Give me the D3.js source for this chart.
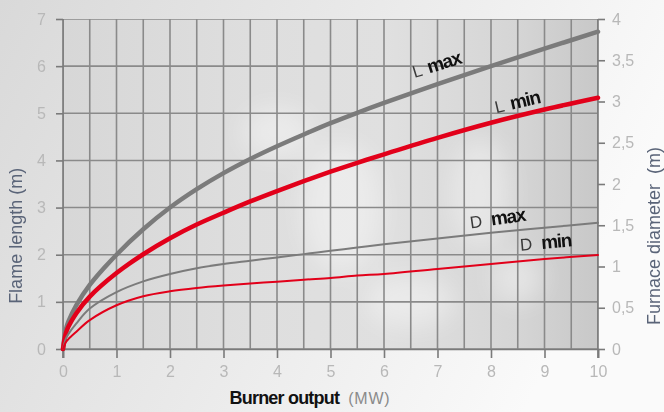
<!DOCTYPE html>
<html>
<head>
<meta charset="utf-8">
<script src="https://cdn.jsdelivr.net/npm/d3@7"></script>
<style>
  html, body { margin: 0; padding: 0; background: #fff; }
  svg { display: block; }
</style>
</head>
<body>
<svg id="chart" width="664" height="412"></svg>
<script>
// ---------- data ----------
const burnerMW = [0, 0.05, 0.1, 0.25, 0.5, 1, 1.5, 2, 2.5, 3, 3.5, 4, 4.5, 5, 5.5, 6, 7, 8, 9, 10];
// Flame length (m) — left axis
const lMax = [0, 0.40, 0.58, 0.93, 1.36, 2.00, 2.54, 3.00, 3.39, 3.73, 4.03, 4.30, 4.55, 4.79, 5.01, 5.22, 5.62, 6.00, 6.37, 6.73];
const lMin = [0, 0.32, 0.47, 0.76, 1.11, 1.61, 2.01, 2.35, 2.64, 2.89, 3.13, 3.35, 3.56, 3.76, 3.95, 4.13, 4.48, 4.80, 5.08, 5.33];
// Furnace diameter (m) — right axis
const dMax = [0, 0.12, 0.18, 0.31, 0.49, 0.69, 0.82, 0.91, 0.98, 1.03, 1.07, 1.11, 1.15, 1.19, 1.23, 1.27, 1.34, 1.41, 1.47, 1.53];
const dMin = [0, 0.08, 0.12, 0.21, 0.35, 0.53, 0.64, 0.70, 0.74, 0.77, 0.795, 0.815, 0.84, 0.86, 0.89, 0.91, 0.97, 1.03, 1.09, 1.14];

const xTicks = [0, 1, 2, 3, 4, 5, 6, 7, 8, 9, 10];
const xGrid = d3.range(0, 10.01, 0.5);
const leftTicks = [0, 1, 2, 3, 4, 5, 6, 7];
const rightTicks = [0, 0.5, 1, 1.5, 2, 2.5, 3, 3.5, 4];
const rightTickLabels = ["0", "0,5", "1", "1,5", "2", "2,5", "3", "3,5", "4"];

// curve labels: [prefix, suffix, x (MW), value, axis, angle]
const curveLabels = [
  ["L", "max", 6.57, 5.75, "L", -17],
  ["L", "min", 8.1, 5.0, "L", -13],
  ["D", "max", 7.62, 1.46, "R", -8],
  ["D", "min", 8.55, 1.19, "R", -5]
];

// ---------- layout ----------
const svg = d3.select("#chart");
const W = 664, H = 412;
const x = d3.scaleLinear().domain([0, 10]).range([63, 598]);
const yL = d3.scaleLinear().domain([0, 7]).range([349, 19]);
const yR = d3.scaleLinear().domain([0, 4]).range([349, 19]);

const defs = svg.append("defs");
const pageGrad = defs.append("linearGradient").attr("id", "pageGrad")
  .attr("x1", "0").attr("x2", "1").attr("y1", "0").attr("y2", "0.3");
pageGrad.append("stop").attr("offset", "0").attr("stop-color", "#d9d9d9");
pageGrad.append("stop").attr("offset", "0.5").attr("stop-color", "#e9e9e9");
pageGrad.append("stop").attr("offset", "1").attr("stop-color", "#fafafa");

const plotGrad = defs.append("linearGradient").attr("id", "plotGrad")
  .attr("x1", "0").attr("x2", "1").attr("y1", "0").attr("y2", "0");
plotGrad.append("stop").attr("offset", "0").attr("stop-color", "#d7d7d7");
plotGrad.append("stop").attr("offset", "0.35").attr("stop-color", "#dedede");
plotGrad.append("stop").attr("offset", "0.6").attr("stop-color", "#e0e0e0");
plotGrad.append("stop").attr("offset", "0.85").attr("stop-color", "#d5d5d5");
plotGrad.append("stop").attr("offset", "1").attr("stop-color", "#c8c8c8");

const blur = defs.append("filter").attr("id", "blur").attr("x", "-50%").attr("y", "-50%").attr("width", "200%").attr("height", "200%");
blur.append("feGaussianBlur").attr("stdDeviation", 12);

defs.append("clipPath").attr("id", "plotClip").append("rect")
  .attr("x", x(0)).attr("y", yL(7)).attr("width", x(10) - x(0)).attr("height", yL(0) - yL(7));

svg.append("rect").attr("width", W).attr("height", H).attr("fill", "url(#pageGrad)");

const plot = svg.append("g").attr("clip-path", "url(#plotClip)");
plot.append("rect")
  .attr("x", x(0)).attr("y", yL(7)).attr("width", x(10) - x(0)).attr("height", yL(0) - yL(7))
  .attr("fill", "url(#plotGrad)");

// faded photo highlights
const blobs = [[5.2, 3.0, 40, 65], [7.8, 3.3, 30, 55], [6.5, 1.0, 45, 25], [4.0, 4.6, 35, 25], [8.5, 1.5, 25, 25]];
plot.append("g").attr("filter", "url(#blur)")
  .selectAll("ellipse").data(blobs).join("ellipse")
  .attr("cx", d => x(d[0])).attr("cy", d => yL(d[1]))
  .attr("rx", d => d[2]).attr("ry", d => d[3])
  .attr("fill", "#ffffff").attr("opacity", 0.38);

// grid
const gridColor = "#8a8a8a";
plot.append("g").selectAll("line").data(xGrid).join("line")
  .attr("x1", d => x(d)).attr("x2", d => x(d))
  .attr("y1", yL(7)).attr("y2", yL(0))
  .attr("stroke", gridColor).attr("stroke-width", 1.6);
plot.append("g").selectAll("line").data(leftTicks).join("line")
  .attr("x1", x(0)).attr("x2", x(10))
  .attr("y1", d => yL(d)).attr("y2", d => yL(d))
  .attr("stroke", gridColor).attr("stroke-width", 1.6);

// axes
const tickFont = "'Liberation Sans', Arial, sans-serif";
const tickColor = "#b8b8b8";

const gLeft = svg.append("g").attr("transform", `translate(${x(0)},0)`)
  .call(d3.axisLeft(yL).tickValues(leftTicks).tickSize(7).tickPadding(10).tickFormat(d3.format("d")));
const gBottom = svg.append("g").attr("transform", `translate(0,${yL(0)})`)
  .call(d3.axisBottom(x).tickValues(xTicks).tickSize(9).tickPadding(8).tickFormat(d3.format("d")));
const gRight = svg.append("g").attr("transform", `translate(${x(10)},0)`)
  .call(d3.axisRight(yR).tickValues(rightTicks).tickSize(7).tickPadding(7).tickFormat((d, i) => rightTickLabels[i]));

[gLeft, gBottom, gRight].forEach(g => {
  g.select(".domain").attr("stroke", "#7a7a7a").attr("stroke-width", 1.6);
  g.selectAll(".tick line").attr("stroke", "#7a7a7a").attr("stroke-width", 1.6);
  g.selectAll(".tick text").attr("fill", tickColor)
    .style("font-family", tickFont).style("font-size", "16px");
});
gLeft.select(".domain").attr("d", `M0,${yL(7)}V${yL(0) + 9}`);
gRight.select(".domain").attr("d", `M0,${yR(4)}V${yR(0) + 9}`);

// curves
const line = (ys, scale) => d3.line()
  .x((d, i) => x(burnerMW[i]))
  .y(d => scale(d))
  .curve(d3.curveCatmullRom.alpha(0.5))(ys);

const series = [
  { v: lMax, s: yL, color: "#7b7b7b", w: 4.5 },
  { v: lMin, s: yL, color: "#e2001a", w: 4.5 },
  { v: dMax, s: yR, color: "#7b7b7b", w: 2 },
  { v: dMin, s: yR, color: "#e2001a", w: 2 }
];
svg.append("g").selectAll("path").data(series).join("path")
  .attr("d", d => line(d.v, d.s))
  .attr("fill", "none")
  .attr("stroke", d => d.color)
  .attr("stroke-width", d => d.w)
  .attr("stroke-linecap", "round");

// curve labels
curveLabels.forEach(([p, s, xv, yv, ax, ang]) => {
  const sc = ax === "L" ? yL : yR;
  const t = svg.append("text")
    .attr("transform", `translate(${x(xv)},${sc(yv)}) rotate(${ang})`)
    .style("font-family", "'Liberation Sans', Arial, sans-serif");
  t.append("tspan").text(p)
    .attr("fill", "#3a3a3a").style("font-size", "17px").style("font-weight", "normal");
  t.append("tspan").text(s).attr("dx", p === "L" ? 6 : 9)
    .attr("fill", "#111").style("font-size", "19px").style("font-weight", "bold")
    .style("letter-spacing", "-1.2px");
});

// axis titles
const xt = svg.append("text")
  .attr("x", 310).attr("y", 404).attr("text-anchor", "middle")
  .style("font-family", "'Liberation Sans', Arial, sans-serif");
xt.append("tspan").text("Burner output").attr("fill", "#111")
  .style("font-size", "18px").style("font-weight", "bold").style("letter-spacing", "-0.8px");
xt.append("tspan").text("(MW)").attr("dx", 9).attr("fill", "#8a8a8a")
  .style("font-size", "16px").style("letter-spacing", "0.8px");

svg.append("text")
  .attr("transform", `translate(16,${yL(2.4)}) rotate(-90)`)
  .attr("text-anchor", "middle").attr("dominant-baseline", "central")
  .attr("fill", "#5a6478")
  .style("font-family", "'Liberation Sans', Arial, sans-serif")
  .style("font-size", "18px")
  .text("Flame length (m)");

svg.append("text")
  .attr("transform", `translate(654,${yR(1.37)}) rotate(-90)`)
  .attr("text-anchor", "middle").attr("dominant-baseline", "central")
  .attr("fill", "#5a6478")
  .style("font-family", "'Liberation Sans', Arial, sans-serif")
  .style("font-size", "18px")
  .style("white-space", "pre")
  .text("Furnace diameter  (m)");
</script>
</body>
</html>
